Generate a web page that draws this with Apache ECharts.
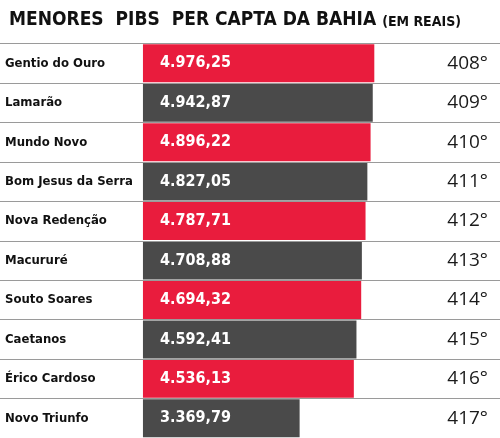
<!DOCTYPE html>
<html>
<head>
<meta charset="utf-8">
<script src="https://cdn.jsdelivr.net/npm/echarts@6/dist/echarts.min.js"></script>
<style>
  html, body { margin: 0; padding: 0; background: #fff; }
  #chart { width: 500px; height: 438px; }
</style>
</head>
<body>
<div id="chart"></div>
<script>
// dados
var cidades = ['Gentio do Ouro', 'Lamarão', 'Mundo Novo', 'Bom Jesus da Serra', 'Nova Redenção',
  'Macururé', 'Souto Soares', 'Caetanos', 'Érico Cardoso', 'Novo Triunfo'];
var pibs = [4976.25, 4942.87, 4896.22, 4827.05, 4787.71, 4708.88, 4694.32, 4592.41, 4536.13, 3369.79];
var posicoes = ['408°', '409°', '410°', '411°', '412°', '413°', '414°', '415°', '416°', '417°'];

var vermelho = '#e91c3d';
var cinza = '#4a4a4a';
var fonteNarrow = '"DejaVu Sans Condensed", "DejaVu Sans", sans-serif';

function formatBR (v) {
  var partes = v.toFixed(2).split('.');
  return partes[0].replace(/\B(?=(\d{3})+(?!\d))/g, '.') + ',' + partes[1];
}

var myChart = echarts.init(document.getElementById('chart'));
myChart.setOption({
  animation: false,
  title: {
    text: 'MENORES  PIBS  PER CAPTA DA BAHIA {s|(EM REAIS)}',
    left: 4,
    top: 6,
    textStyle: {
      fontFamily: fonteNarrow,
      fontWeight: 'bold',
      fontSize: 19,
      color: '#111',
      rich: {
        s: { fontFamily: fonteNarrow, fontWeight: 'bold', fontSize: 14, color: '#111', padding: [3, 0, 0, 0] }
      }
    }
  },
  grid: { left: 0, right: 0, top: 43.5, height: 396 },
  xAxis: {
    type: 'value',
    min: -3075,
    max: 7680,
    show: false
  },
  yAxis: [
    {
      type: 'category',
      data: cidades,
      inverse: true,
      position: 'left',
      axisLine: { show: false },
      axisTick: { show: false },
      splitLine: { show: true, lineStyle: { color: '#9a9a9a', width: 1.2 } },
      axisLabel: {
        inside: true,
        margin: 5,
        fontFamily: fonteNarrow,
        fontWeight: 'bold',
        fontSize: 13,
        color: '#111'
      },
      z: 3
    },
    {
      type: 'category',
      data: posicoes,
      inverse: true,
      position: 'right',
      axisLine: { show: false },
      axisTick: { show: false },
      splitLine: { show: false },
      axisLabel: {
        inside: true,
        margin: 12,
        fontFamily: '"Open Sans", sans-serif',
        fontSize: 19,
        color: '#1a1a1a'
      }
    }
  ],
  series: [
    {
      type: 'bar',
      yAxisIndex: 0,
      data: pibs.map(function (v, i) {
        return { value: v, itemStyle: { color: i % 2 === 0 ? vermelho : cinza } };
      }),
      barWidth: 38,
      label: {
        show: true,
        position: [88, '50%'],
        align: 'right',
        verticalAlign: 'middle',
        fontFamily: fonteNarrow,
        fontWeight: 'bold',
        fontSize: 16,
        color: '#fff',
        formatter: function (p) { return formatBR(p.value); }
      }
    }
  ]
});
</script>
</body>
</html>
